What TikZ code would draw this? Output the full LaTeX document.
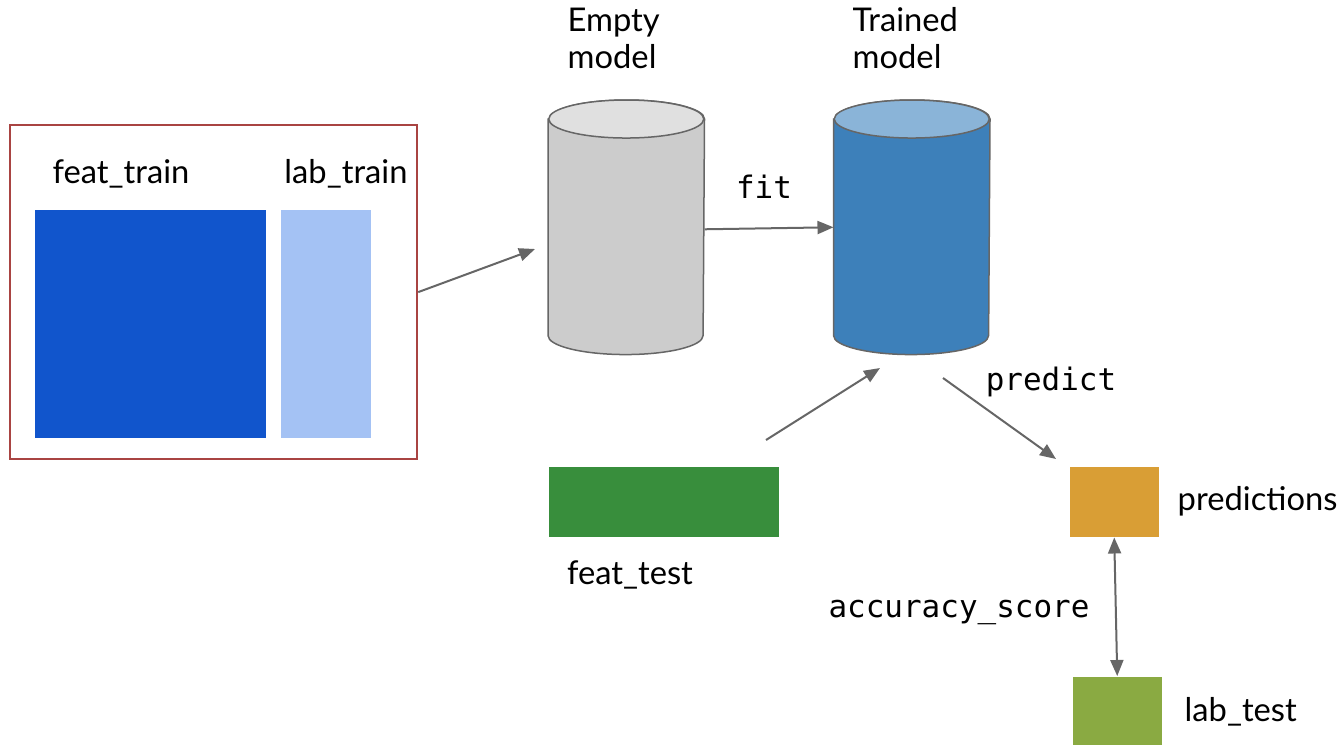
\documentclass[tikz,border=0pt]{standalone}
\usepackage{fontspec}
\setmainfont{Lato}
\setmonofont{DejaVu Sans Mono}
\usetikzlibrary{arrows.meta}

\definecolor{boxred}{HTML}{A94442}
\definecolor{trainblue}{HTML}{1155CC}
\definecolor{trainlight}{HTML}{A4C2F4}
\definecolor{emptygray}{HTML}{CCCCCC}
\definecolor{emptytop}{HTML}{E0E0E0}
\definecolor{modelblue}{HTML}{3D80BA}
\definecolor{modeltop}{HTML}{8AB4D8}
\definecolor{testgreen}{HTML}{388E3C}
\definecolor{predorange}{HTML}{D99E35}
\definecolor{labgreen}{HTML}{8AAA42}
\definecolor{linegray}{HTML}{666666}

\tikzset{
  block/.style={inner sep=0pt, anchor=north west},
  model/.style={block, minimum width=1.55cm, minimum height=2.53cm},
  can/.style={draw=linegray, line width=0.015cm},
  flow/.style={draw=linegray, line width=0.02cm, -{Triangle[length=0.16cm,width=0.13cm]}},
  txt/.style={inner sep=0pt, font=\fontsize{9.3}{10.5}\selectfont},
  code/.style={inner sep=0pt, font=\ttfamily\fontsize{8.8}{10}\selectfont}
}

% cylinder drawn over a named model node: #1 node, #2 body colour, #3 lid colour
\newcommand{\modelcan}[3]{
  \draw[can, fill=#2] ([yshift=-0.19cm]#1.north west) -- ([yshift=0.19cm]#1.south west)
    arc[start angle=180, end angle=360, x radius=0.775cm, y radius=0.19cm]
    -- ([yshift=-0.19cm]#1.north east)
    arc[start angle=0, end angle=180, x radius=0.775cm, y radius=0.19cm] -- cycle;
  \draw[can, fill=#3] ([yshift=-0.19cm]#1.north) ellipse[x radius=0.775cm, y radius=0.19cm];
}

\begin{document}
\begin{tikzpicture}[x=0.01cm, y=-0.01cm]

  \useasboundingbox (0,0) rectangle (1340,745);

  % training data
  \node[block, draw=boxred, line width=0.02cm, minimum width=4.07cm, minimum height=3.34cm] (trainbox) at (9,124) {};
  \node[block, fill=trainblue, minimum width=2.31cm, minimum height=2.28cm] (feattrain) at (34,209) {};
  \node[block, fill=trainlight, minimum width=0.90cm, minimum height=2.28cm] (labtrain) at (280,209) {};
  \node[txt, anchor=base] at (121,183) {feat\_train};
  \node[txt, anchor=base] at (346,183) {lab\_train};

  % models
  \node[model] (empty) at (548,100) {};
  \node[model] (trained) at (833.5,100) {};
  \modelcan{empty}{emptygray}{emptytop}
  \modelcan{trained}{modelblue}{modeltop}
  \node[txt, align=left, anchor=north west] at (567,7) {Empty\\model};
  \node[txt, align=left, anchor=north west] at (852,7) {Trained\\model};

  % test data and predictions
  \node[block, fill=testgreen, minimum width=2.30cm, minimum height=0.70cm] (feattest) at (548,466) {};
  \node[block, fill=predorange, minimum width=0.89cm, minimum height=0.70cm] (predictions) at (1069,466) {};
  \node[block, fill=labgreen, minimum width=0.89cm, minimum height=0.68cm] (labtest) at (1072,676) {};
  \node[txt, anchor=base] at (630,584) {feat\_test};
  \node[txt, anchor=base west] at (1177,510) {predictions};
  \node[txt, anchor=base west] at (1184,721) {lab\_test};

  % method names
  \node[code, anchor=base] at (764,198) {fit};
  \node[code, anchor=base] at (1051,390) {predict};
  \node[code, anchor=base] at (959,617) {accuracy\_score};

  \coordinate (inA) at (535,249);
  \coordinate (testA) at (766,440);
  \coordinate (testB) at (880,368);
  \coordinate (predA) at (943,378);
  \coordinate (predB) at (1056,459);

  \draw[flow] (trainbox.east) -- (inA);
  \draw[flow] ([yshift=-0.02cm]empty.east) -- (trained.west);
  \draw[flow] (testA) -- (testB);
  \draw[flow] (predA) -- (predB);
  \draw[flow, {Triangle[length=0.16cm,width=0.13cm]}-{Triangle[length=0.16cm,width=0.13cm]}] (predictions.south) -- (labtest.north);

\end{tikzpicture}
\end{document}
